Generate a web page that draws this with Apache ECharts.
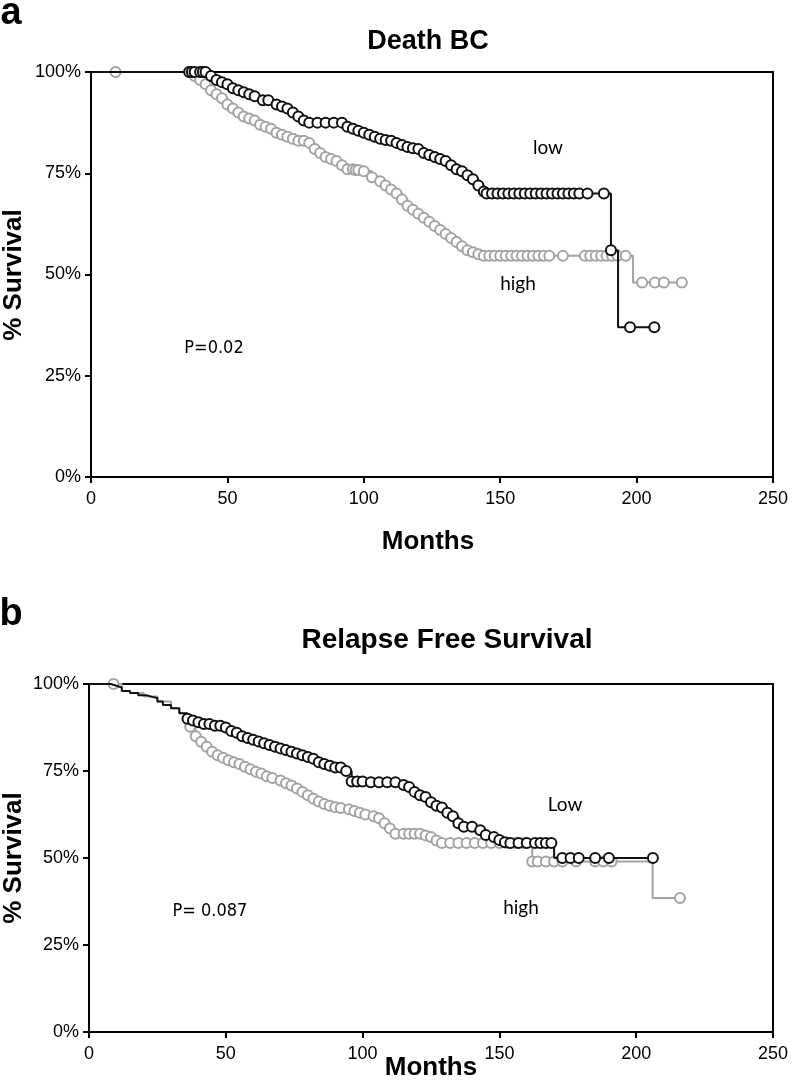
<!DOCTYPE html>
<html>
<head>
<meta charset="utf-8">
<script src="https://cdn.jsdelivr.net/npm/echarts@6/dist/echarts.min.js"></script>
<style>html,body{margin:0;padding:0;background:#fff;}#c{width:793px;height:1080px;}</style>
</head>
<body>
<div id="c"></div>
<script>
// ---- DATA ----
const panelTitles = ['Death BC', 'Relapse Free Survival'];
const groupNames = ['low', 'high'];
const xTickValues = [0, 50, 100, 150, 200, 250];
const yTickValues = [0, 25, 50, 75, 100];
// [month, % survival, censored marker (1) or event-only (0)]
const deathLow = [[0,100,0],[36,100,1],[37,100,1],[38,100,1],[40,100,1],[41,100,1],[42,100,1],[44,99,1],[46,98,1],[48,97.5,1],[50,97,1],[52,96,1],[54,95.5,1],[56,95,1],[58,94.5,1],[60,94,1],[63,93,1],[65,93,1],[68,92,1],[70,91.5,1],[72,91,1],[74,90,1],[76,89,1],[78,88,1],[80,87.5,1],[83,87.5,1],[86,87.5,1],[89,87.5,1],[92,87.5,1],[94,86.5,1],[96,86,1],[98,85.5,1],[100,85,1],[102,84.5,1],[104,84,1],[106,83.5,1],[108,83.2,1],[110,83,1],[112,82.5,1],[114,82,1],[116,81.5,1],[118,81.2,1],[120,81,1],[122,80,1],[124,79.5,1],[126,79,1],[128,78.5,1],[130,78,1],[132,77,1],[134,76,1],[136,75.5,1],[138,74.5,1],[140,73.5,1],[142,72,1],[144,70.5,1],[145,70,1],[147,70,1],[149,70,1],[151,70,1],[153,70,1],[155,70,1],[157,70,1],[159,70,1],[161,70,1],[163,70,1],[165,70,1],[167,70,1],[169,70,1],[171,70,1],[173,70,1],[175,70,1],[177,70,1],[179,70,1],[182,70,1],[188,70,1],[190.6,56,1],[193.2,37,0],[197.6,37,1],[206.5,37,1]];
const deathHigh = [[0,100,0],[9,100,1],[36,100,1],[38,99,1],[40,98,1],[42,97,1],[44,95.5,1],[46,94.5,1],[48,93.5,1],[50,92,1],[52,91,1],[54,90,1],[56,89,1],[58,88.5,1],[60,88,1],[62,87,1],[64,86.5,1],[66,86,1],[68,85,1],[70,84.5,1],[72,84,1],[74,83.5,1],[76,83,1],[78,83,1],[80,82.5,1],[82,81,1],[84,80,1],[86,79,1],[88,78.5,1],[90,78,1],[92,77,1],[94,76,1],[96,76,1],[97,75.8,1],[98,75.8,1],[100,75.5,1],[103,74,1],[106,73,1],[108,72,1],[110,71,1],[112,70,1],[114,68.5,1],[116,67,1],[118,66,1],[120,65,1],[122,64,1],[124,63,1],[126,62,1],[128,61,1],[130,60,1],[132,59,1],[134,58,1],[136,57,1],[138,56,1],[140,55.5,1],[142,55,1],[144,54.6,1],[146,54.6,1],[148,54.6,1],[150,54.6,1],[152,54.6,1],[154,54.6,1],[156,54.6,1],[158,54.6,1],[160,54.6,1],[162,54.6,1],[164,54.6,1],[166,54.6,1],[168,54.6,1],[173,54.6,1],[181,54.6,1],[183,54.6,1],[185,54.6,1],[187,54.6,1],[189,54.6,1],[191,54.6,1],[193,54.6,1],[196,54.6,1],[198.7,48,0],[202,48,1],[206.7,48,1],[210,48,1],[216.6,48,1]];
const rfsLow = [[0,100,0],[5,100,0],[8,99.5,0],[10,99,0],[12,98,0],[15,97.4,0],[18,96.8,0],[21,96.3,0],[23,96,0],[25,95,0],[27,94,0],[30,93,0],[33,91.6,0],[36,90,1],[38,89.5,1],[40,89,1],[42,88.5,1],[44,88.5,1],[46,88,1],[48,88,1],[50,87.5,1],[52,86.5,1],[54,86,1],[56,85,1],[58,84.5,1],[60,84,1],[62,83.5,1],[64,83,1],[66,82.5,1],[68,82,1],[70,81.5,1],[72,81,1],[74,80.5,1],[76,80,1],[78,79.5,1],[80,79,1],[82,78.5,1],[84,77.5,1],[86,77,1],[88,76.5,1],[90,76,1],[92,76,1],[94,75,1],[96,72,1],[98,72,1],[100,72,1],[103,71.8,1],[106,71.8,1],[109,71.8,1],[112,71.8,1],[115,71,1],[117,70.4,1],[119,69,1],[121,68,1],[123,67.5,1],[125,66,1],[127,65,1],[129,64.5,1],[131,63,1],[133,62,1],[135,60,1],[137,59,1],[140,59,1],[143,58,1],[145,56.6,1],[148,56,1],[150,55.2,1],[152,54.5,1],[154,54.3,1],[157,54.3,1],[160,54.3,1],[163,54.3,1],[165,54.3,1],[167,54.3,1],[169,54.3,1],[170,50,0],[173,50,1],[176,50,1],[179,50,1],[185,50,1],[190,50,1],[206.1,50,1]];
const rfsHigh = [[0,100,0],[9,100,1],[12,98,0],[15,97.4,0],[20,96.4,0],[25,95,0],[30,93,0],[33,91.6,0],[35,90,0],[37,87.7,1],[39,85,1],[41,83.4,1],[43,82,1],[45,80.5,1],[47,79.5,1],[49,78.8,1],[51,78.1,1],[53,77.5,1],[55,77,1],[57,76.2,1],[59,75.5,1],[61,74.8,1],[63,74.3,1],[65,73.5,1],[67,73,1],[70,72.3,1],[72,71.5,1],[74,70.8,1],[76,70,1],[78,69,1],[80,68,1],[82,67,1],[84,66.2,1],[86,65.5,1],[88,65,1],[90,64.6,1],[92,64.4,1],[95,64,1],[97,63.5,1],[99,63,1],[101,62.5,1],[104,62,1],[106,61.4,1],[108,60,1],[110,58.5,1],[112,57,1],[115,57,1],[117,57,1],[119,57,1],[121,57,1],[123,56.5,1],[125,56,1],[127,55,1],[129,54.3,1],[132,54.3,1],[135,54.3,1],[138,54.3,1],[141,54.3,1],[144,54.3,1],[147,54.3,1],[150,54.3,1],[153,54.3,1],[156,54.3,1],[159,54.3,1],[162,49,1],[164,49,1],[167,49,1],[170,49,1],[173,49,1],[178,49,1],[185,49,1],[188,49,1],[191,49,1],[206,38.5,0],[216,38.5,1]];
const pLabels = ['P=0.02', 'P= 0.087'];

// ---- CHART ----
const chart = echarts.init(document.getElementById('c'), null, {renderer: 'canvas'});
const BLACK = '#111111', GRAY = '#a3a3a3';
const tickFont = '"Liberation Sans", Arial, sans-serif';

function xAx(gi) {
  return {
    type: 'value', gridIndex: gi, min: 0, max: 250, interval: 50,
    axisLine: {show: true, onZero: false, lineStyle: {color: '#000', width: 2}},
    axisTick: {show: true, length: 6, lineStyle: {color: '#000', width: 2}},
    splitLine: {show: false},
    axisLabel: {color: '#000', fontSize: 18, fontFamily: tickFont, margin: 13,
      customValues: xTickValues}
  };
}
function yAx(gi) {
  return {
    type: 'value', gridIndex: gi, min: 0, max: 100, interval: 25,
    axisLine: {show: true, onZero: false, lineStyle: {color: '#000', width: 2}},
    axisTick: {show: true, length: 6, lineStyle: {color: '#000', width: 2}},
    splitLine: {show: false},
    axisLabel: {color: '#000', fontSize: 18, fontFamily: tickFont, margin: 10,
      formatter: '{value}%'}
  };
}
function km(data, color, gi, z) {
  return {
    type: 'line', xAxisIndex: gi, yAxisIndex: gi, step: 'end', z: z,
    data: data,
    symbol: function (v) { return v[2] ? 'emptyCircle' : 'none'; },
    symbolSize: 10,
    showAllSymbol: true,
    itemStyle: {color: color, borderColor: color, borderWidth: 2.2},
    lineStyle: {color: color, width: 2},
    emphasis: {disabled: true},
    animation: false
  };
}
function txt(x, y, text, size, weight, family, extra) {
  return Object.assign({
    type: 'text', x: x, y: y, z: 100,
    style: Object.assign({text: text, fill: '#000', font: weight + ' ' + size + 'px ' + family,
      align: 'center', verticalAlign: 'middle'}, extra || {})
  });
}
const boldF = '"Liberation Sans", Arial, sans-serif';
const annF = 'Lato, "Open Sans", sans-serif';
const pF = '"DejaVu Sans Condensed", sans-serif';

chart.setOption({
  animation: false,
  backgroundColor: '#fff',
  grid: [
    {left: 91, top: 72, width: 682, height: 405, show: true, borderColor: '#000', borderWidth: 2, backgroundColor: 'transparent'},
    {left: 89, top: 684, width: 684, height: 348, show: true, borderColor: '#000', borderWidth: 2, backgroundColor: 'transparent'}
  ],
  xAxis: [xAx(0), xAx(1)],
  yAxis: [yAx(0), yAx(1)],
  series: [
    km(deathHigh, GRAY, 0, 2), km(deathLow, BLACK, 0, 3),
    km(rfsHigh, GRAY, 1, 2), km(rfsLow, BLACK, 1, 3)
  ],
  graphic: [
    txt(11, 14, 'a', 38, 'bold', boldF),
    txt(11, 615, 'b', 38, 'bold', boldF),
    txt(428, 42, panelTitles[0], 27, 'bold', boldF),
    txt(447, 640, panelTitles[1], 28, 'bold', boldF),
    txt(428, 542, 'Months', 26, 'bold', boldF),
    txt(431, 1068, 'Months', 26, 'bold', boldF),
    Object.assign(txt(14, 275, '% Survival', 26, 'bold', boldF), {rotation: Math.PI / 2}),
    Object.assign(txt(14, 858, '% Survival', 26, 'bold', boldF), {rotation: Math.PI / 2}),
    txt(548, 148, groupNames[0], 19, 'normal', annF),
    txt(518, 284, groupNames[1], 19, 'normal', annF),
    txt(565, 805, 'Low', 19, 'normal', annF),
    txt(521, 908, groupNames[1], 19, 'normal', annF),
    txt(214, 348, pLabels[0], 18, 'normal', pF),
    txt(210, 911, pLabels[1], 18, 'normal', pF)
  ]
});
</script>
</body>
</html>
